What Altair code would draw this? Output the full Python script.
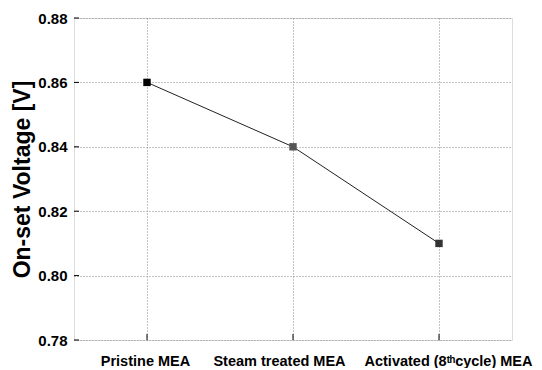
import altair as alt
import pandas as pd

categories = ["Pristine MEA", "Steam treated MEA", "Activated (8ᵗʰcycle) MEA"]
values = [0.86, 0.84, 0.81]
marker_colors = ["#000000", "#555555", "#333333"]
y_ticks = [0.78, 0.80, 0.82, 0.84, 0.86, 0.88]

df = pd.DataFrame({"cat": categories, "v": values, "c": marker_colors})
ticks_df = pd.DataFrame({"t": y_ticks})

FONT = "Liberation Sans"

label_offset = {
    "condition": [
        {"test": f"datum.value == '{categories[1]}'", "value": -14},
        {"test": f"datum.value == '{categories[2]}'", "value": 9},
    ],
    "value": -2,
}

x_enc = alt.X("cat:N", sort=categories,
              scale=alt.Scale(type="point", padding=0.5),
              axis=alt.Axis(title=None, labelAngle=0, labelFont=FONT, labelFontSize=14.5,
                            labelFontWeight="bold", labelColor="black", labelPadding=14,
                            labelOffset=label_offset,
                            ticks=False, domain=False, grid=True, gridColor="#888888",
                            gridDash=[1, 2], gridWidth=1))
y_scale = alt.Scale(domain=[0.78, 0.88], nice=False, zero=False)
y_enc = alt.Y("v:Q", scale=y_scale,
              axis=alt.Axis(title="On-set Voltage [V]", values=y_ticks, format=".2f",
                            labelFont=FONT, labelFontSize=15, labelFontWeight="bold",
                            labelColor="black", labelPadding=7, ticks=False, domain=False,
                            grid=True, gridColor="#888888", gridDash=[1, 2], gridWidth=1,
                            titleFont=FONT, titleFontSize=23, titleFontWeight="bold",
                            titleColor="black", titlePadding=3))

line = alt.Chart(df).mark_line(color="#222222", strokeWidth=1).encode(x=x_enc, y=y_enc)
pts = alt.Chart(df).mark_point(shape="square", filled=True, size=55, opacity=1).encode(
    x=alt.X("cat:N", sort=categories), y=alt.Y("v:Q"),
    color=alt.Color("c:N", scale=None))

xticks = alt.Chart(df).mark_rule(color="black", strokeWidth=1).encode(
    x=alt.X("cat:N", sort=categories), y=alt.value(322), y2=alt.value(316))
yticks = alt.Chart(ticks_df).mark_rule(color="black", strokeWidth=1).encode(
    y=alt.Y("t:Q", scale=y_scale), x=alt.value(0), x2=alt.value(5))

chart = alt.layer(line, xticks, yticks, pts).properties(
    width=438, height=322,
    autosize=alt.AutoSizeParams(type="none"),
    padding={"left": 66, "top": 10, "right": 22, "bottom": 28},
).configure_view(stroke="black", strokeWidth=1.6).configure(background="white")

chart.save("out.html", embed_options={"renderer": "svg", "actions": False})
